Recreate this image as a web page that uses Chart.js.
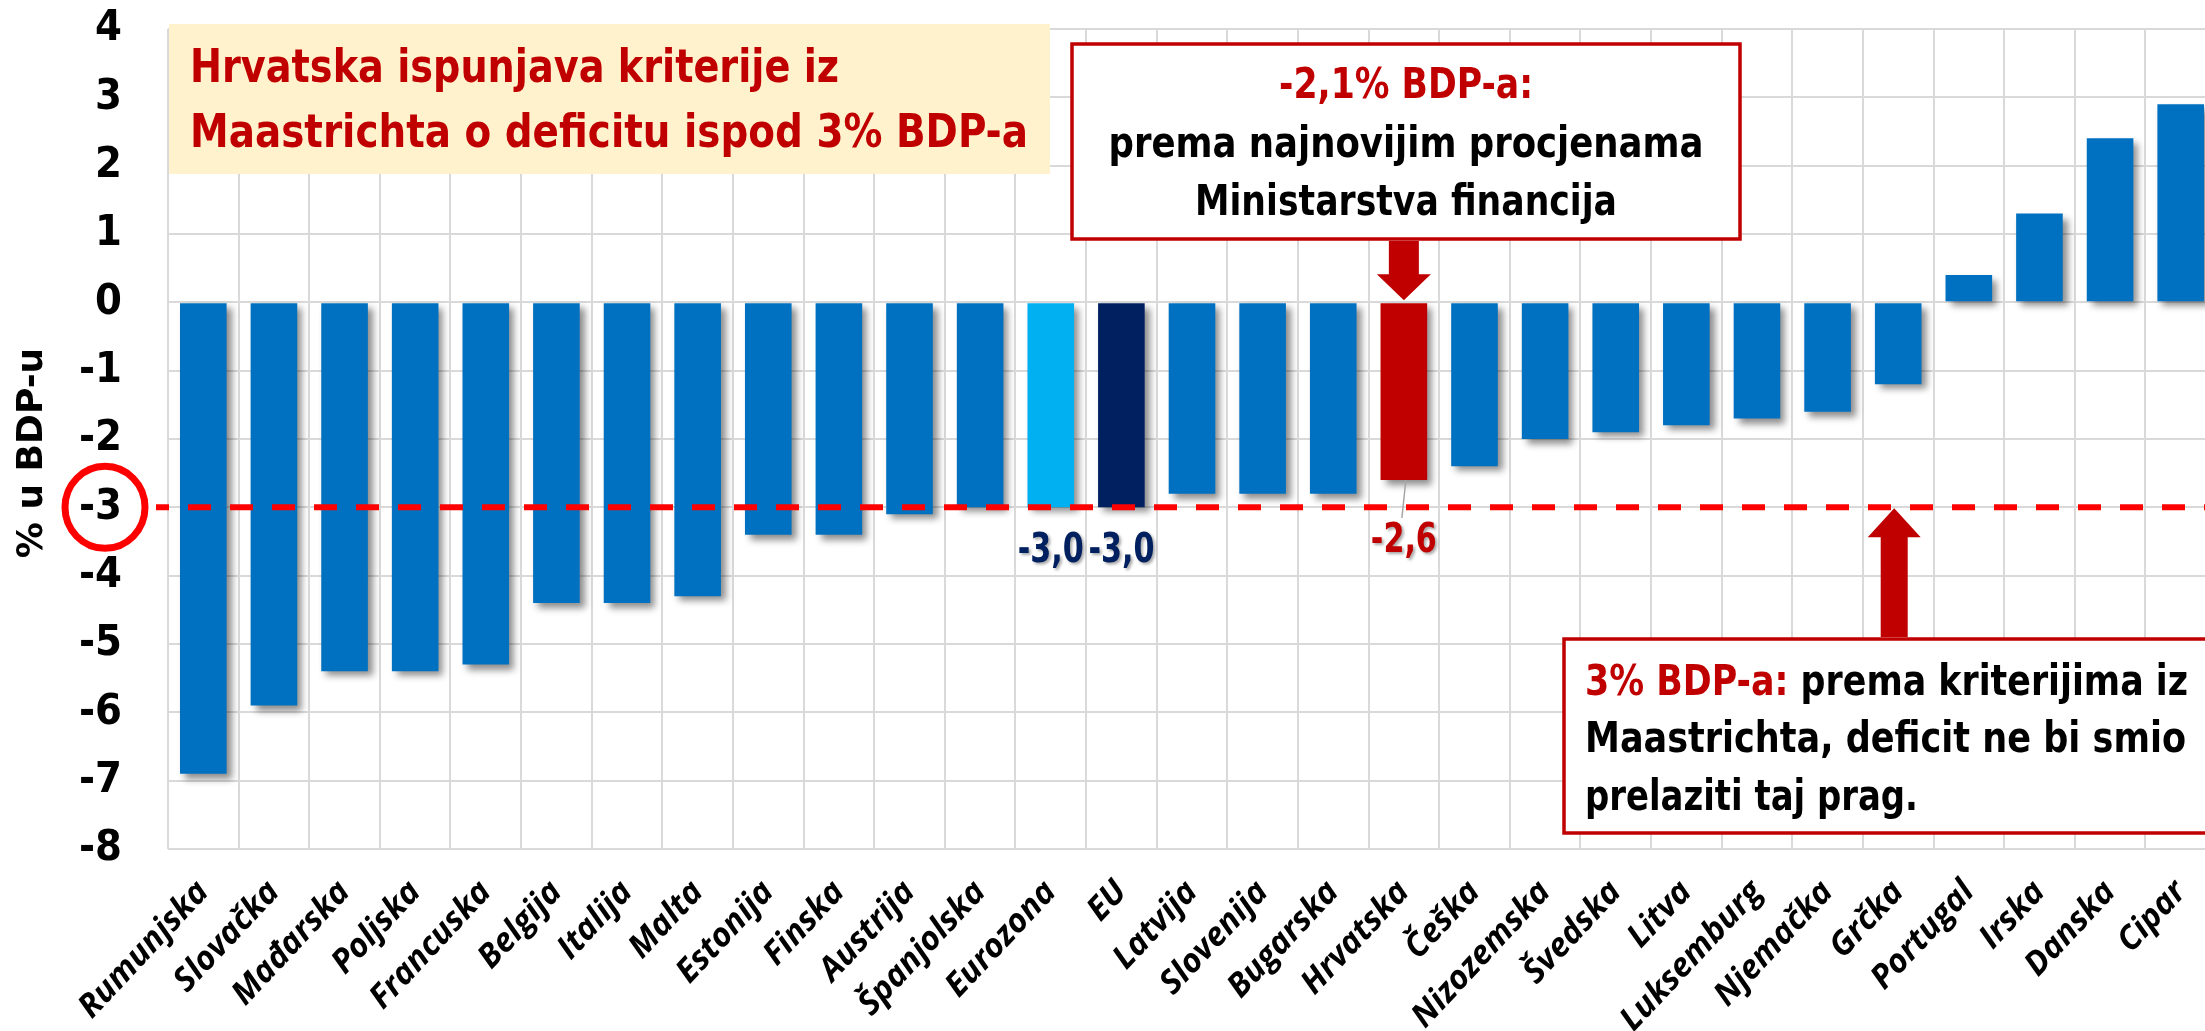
<!DOCTYPE html>
<html>
<head>
<meta charset="utf-8">
<script src="https://cdn.jsdelivr.net/npm/chart.js@4.4.1/dist/chart.umd.min.js"></script>
<style>
  html, body { margin: 0; padding: 0; background: #fff; overflow: hidden; }
  #wrap { width: 2216px; height: 1031px; }
</style>
</head>
<body>
<div id="wrap"><canvas id="deficit" width="2216" height="1031"></canvas></div>
<script>
// proračunski saldo, % BDP-a
const countries = [
    "Rumunjska", "Slovačka", "Mađarska", "Poljska", "Francuska", "Belgija", "Italija",
    "Malta", "Estonija", "Finska", "Austrija", "Španjolska", "Eurozona", "EU", "Latvija",
    "Slovenija", "Bugarska", "Hrvatska", "Češka", "Nizozemska", "Švedska", "Litva",
    "Luksemburg", "Njemačka", "Grčka", "Portugal", "Irska", "Danska", "Cipar",
];
const balance = [
    -6.9, -5.9, -5.4, -5.4, -5.3, -4.4, -4.4,
    -4.3, -3.4, -3.4, -3.1, -3.0, -3.0, -3.0, -2.8,
    -2.8, -2.8, -2.6, -2.4, -2.0, -1.9, -1.8,
    -1.7, -1.6, -1.2, 0.4, 1.3, 2.4, 2.9,
];
const yMin = -8;
const yMax = 4;
const maastrichtLimit = -3;
const estimateMinFin = "-2,1% BDP-a:";

const RED = "#C00000";
const NARROW = "'Liberation Sans Narrow', 'Arial Narrow', 'DejaVu Sans Condensed', sans-serif";

const barColor = (name) => {
    if (name === "Eurozona") return "#00B0F0";
    if (name === "EU") return "#002060";
    if (name === "Hrvatska") return RED;
    return "#0070C0";
};

// which bars get a value label, its colour and distance below the bar end
const valueLabels = {
    Eurozona: { color: "#002060", dy: 41 },
    EU: { color: "#002060", dy: 41 },
    Hrvatska: { color: RED, dy: 58, leader: true },
};

const fmt = (v) => v.toFixed(1).replace(".", ",");

// draws text lines made of coloured parts, squeezed/stretched to a given width
function fitLine(ctx, parts, x, y, width, align) {
    const total = parts.reduce((s, p) => s + ctx.measureText(p[0]).width, 0);
    const k = width / total;
    ctx.save();
    ctx.translate(align === "center" ? x - width / 2 : x, y);
    ctx.scale(k, 1);
    ctx.textAlign = "left";
    ctx.textBaseline = "alphabetic";
    let cx = 0;
    for (const [t, c] of parts) {
        ctx.fillStyle = c;
        ctx.fillText(t, cx, 0);
        cx += ctx.measureText(t).width;
    }
    ctx.restore();
}

function arrow(ctx, cx, yFrom, yTip, shaft, headW, headH) {
    const dir = yTip > yFrom ? 1 : -1;
    const yBase = yTip - dir * headH;
    ctx.beginPath();
    ctx.moveTo(cx - shaft / 2, yFrom);
    ctx.lineTo(cx - shaft / 2, yBase);
    ctx.lineTo(cx - headW / 2, yBase);
    ctx.lineTo(cx, yTip);
    ctx.lineTo(cx + headW / 2, yBase);
    ctx.lineTo(cx + shaft / 2, yBase);
    ctx.lineTo(cx + shaft / 2, yFrom);
    ctx.closePath();
    ctx.fillStyle = RED;
    ctx.fill();
}

function box(ctx, x, y, w, h, fill, stroke) {
    ctx.fillStyle = fill;
    ctx.fillRect(x, y, w, h);
    if (stroke) {
        ctx.lineWidth = 3.5;
        ctx.strokeStyle = stroke;
        ctx.strokeRect(x, y, w, h);
    }
}

const decorations = {
    id: "decorations",
    beforeDatasetsDraw(chart) {
        const ctx = chart.ctx;
        ctx.save();
        ctx.shadowColor = "rgba(0, 0, 0, 0.45)";
        ctx.shadowBlur = 7;
        ctx.shadowOffsetX = 5;
        ctx.shadowOffsetY = 5;
    },
    afterDatasetsDraw(chart) {
        const ctx = chart.ctx;
        ctx.restore();
        const ys = chart.scales.y;
        const yLimit = ys.getPixelForValue(maastrichtLimit);

        // granica od 3% BDP-a
        ctx.save();
        ctx.strokeStyle = "#FF0000";
        ctx.lineWidth = 6;
        ctx.setLineDash([23, 19]);
        ctx.lineDashOffset = 10;
        ctx.beginPath();
        ctx.moveTo(156, yLimit);
        ctx.lineTo(chart.width, yLimit);
        ctx.stroke();
        ctx.restore();

        // vrijednosti ispod odabranih stupaca
        const meta = chart.getDatasetMeta(0);
        countries.forEach((name, i) => {
            const lab = valueLabels[name];
            if (!lab) return;
            const bar = meta.data[i];
            const yEnd = ys.getPixelForValue(balance[i]);
            const ty = yEnd + lab.dy;
            if (lab.leader) {
                ctx.save();
                ctx.strokeStyle = "#A6A6A6";
                ctx.lineWidth = 1.5;
                ctx.beginPath();
                ctx.moveTo(bar.x + 2, yEnd);
                ctx.lineTo(bar.x - 2, ty - 20);
                ctx.stroke();
                ctx.restore();
            }
            ctx.save();
            ctx.font = `bold 40px ${NARROW}`;
            ctx.shadowColor = "rgba(0, 0, 0, 0.35)";
            ctx.shadowBlur = 3;
            ctx.shadowOffsetX = 2;
            ctx.shadowOffsetY = 2;
            fitLine(ctx, [[fmt(balance[i]), lab.color]], bar.x, ty + 14, 66, "center");
            ctx.restore();
        });
    },
    afterDraw(chart) {
        const ctx = chart.ctx;
        const xs = chart.scales.x;
        const ys = chart.scales.y;
        const yLimit = ys.getPixelForValue(maastrichtLimit);

        // oznaka granice na osi
        ctx.save();
        ctx.strokeStyle = "#FF0000";
        ctx.lineWidth = 7;
        ctx.beginPath();
        ctx.ellipse(105, yLimit, 40, 41, 0, 0, Math.PI * 2);
        ctx.stroke();
        ctx.restore();

        // naslov osi
        ctx.save();
        ctx.translate(33, 453);
        ctx.rotate(-Math.PI / 2);
        ctx.font = "bold 36px 'DejaVu Sans', Verdana, sans-serif";
        ctx.fillStyle = "#000";
        ctx.textAlign = "center";
        ctx.textBaseline = "middle";
        ctx.fillText("% u BDP-u", 0, 0);
        ctx.restore();

        // okvir s naslovom
        ctx.save();
        box(ctx, 169, 24, 881, 150, "#FFF2CC");
        ctx.font = `bold 46px ${NARROW}`;
        fitLine(ctx, [["Hrvatska ispunjava kriterije iz", RED]], 190, 82, 649, "left");
        fitLine(ctx, [["Maastrichta o deficitu ispod 3% BDP-a", RED]], 190, 147, 838, "left");
        ctx.restore();

        // procjena Ministarstva financija
        const xHr = xs.getPixelForValue(countries.indexOf("Hrvatska"));
        ctx.save();
        box(ctx, 1072, 44, 668, 195, "#FFFFFF", RED);
        ctx.font = `bold 42px ${NARROW}`;
        fitLine(ctx, [[estimateMinFin, RED]], 1406, 98, 254, "center");
        fitLine(ctx, [["prema najnovijim procjenama", "#000"]], 1406, 157, 595, "center");
        fitLine(ctx, [["Ministarstva financija", "#000"]], 1406, 215, 422, "center");
        arrow(ctx, xHr, 241, ys.getPixelForValue(0) - 2, 30, 54, 26);
        ctx.restore();

        // kriterij iz Maastrichta
        const xGr = xs.getPixelForValue(countries.indexOf("Grčka")) - 4;
        ctx.save();
        box(ctx, 1564, 639, 660, 194, "#FFFFFF", RED);
        ctx.font = `bold 42px ${NARROW}`;
        fitLine(ctx, [["3% BDP-a: ", RED], ["prema kriterijima iz", "#000"]], 1585, 695, 603, "left");
        fitLine(ctx, [["Maastrichta, deficit ne bi smio", "#000"]], 1585, 752, 601, "left");
        fitLine(ctx, [["prelaziti taj prag.", "#000"]], 1585, 810, 333, "left");
        arrow(ctx, xGr, 637, yLimit + 1, 27, 53, 29);
        ctx.restore();
    },
};

new Chart(document.getElementById("deficit"), {
    type: "bar",
    plugins: [decorations],
    data: {
        labels: countries,
        datasets: [
            {
                data: balance,
                backgroundColor: countries.map(barColor),
                borderWidth: 0,
                categoryPercentage: 1,
                barPercentage: 0.66,
            },
        ],
    },
    options: {
        responsive: false,
        animation: false,
        devicePixelRatio: 1,
        layout: { padding: { top: 29, right: 0, bottom: 0, left: 0 } },
        plugins: {
            legend: { display: false },
            tooltip: { enabled: false },
        },
        scales: {
            x: {
                grid: { color: "#D9D9D9", lineWidth: 2, drawTicks: false, offset: true },
                border: { display: false },
                ticks: {
                    autoSkip: false,
                    maxRotation: 47,
                    minRotation: 47,
                    padding: 24,
                    color: "#000",
                    font: { family: "'Open Sans', sans-serif", size: 33, weight: "bold", style: "italic" },
                },
                afterFit: (scale) => {
                    scale.height = 182;
                    scale.paddingLeft = 0;
                    scale.paddingRight = 0;
                },
            },
            y: {
                min: yMin,
                max: yMax,
                grid: { color: "#D9D9D9", lineWidth: 2, drawTicks: false },
                border: { display: false },
                ticks: {
                    stepSize: 1,
                    padding: 46,
                    color: "#000",
                    font: { family: NARROW, size: 43, weight: "bold" },
                },
                afterFit: (scale) => {
                    scale.width = 168;
                    scale.paddingTop = 0;
                    scale.paddingBottom = 0;
                },
            },
        },
    },
});
</script>
</body>
</html>
